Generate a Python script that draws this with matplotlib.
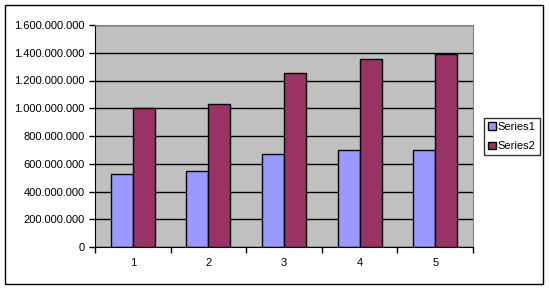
import matplotlib.pyplot as plt
import matplotlib.patches as mpatches
from matplotlib.ticker import FuncFormatter, FixedLocator
import numpy as np

plt.rcParams['font.family'] = ['Liberation Sans', 'DejaVu Sans']

categories = ['1', '2', '3', '4', '5']
series1 = [526e6, 550e6, 670e6, 697e6, 697e6]
series2 = [1000e6, 1030e6, 1255e6, 1353e6, 1391e6]

fig = plt.figure(figsize=(5.49, 2.89), dpi=100)
# outer border
fig.patches.append(mpatches.Rectangle((5 / 549, 5 / 289), 538 / 549, 279 / 289,
                                      transform=fig.transFigure, fill=False,
                                      edgecolor='black', linewidth=1))

ax = fig.add_axes([95 / 549, 1 - 247 / 289, 378 / 549, 222 / 289])
ax.set_facecolor('#C0C0C0')

x = np.arange(len(categories))
w = 0.29
ax.set_axisbelow(True)
ax.yaxis.grid(True, color='black', linewidth=1)
ax.bar(x - w / 2, series1, w, color='#9999FF', edgecolor='black', linewidth=1, label='Series1')
ax.bar(x + w / 2, series2, w, color='#993366', edgecolor='black', linewidth=1, label='Series2')

ax.set_xlim(-0.5, len(categories) - 0.5)
ax.set_ylim(0, 1.6e9)
ax.set_yticks(np.arange(0, 1.6e9 + 1, 2e8))
ax.yaxis.set_major_formatter(FuncFormatter(lambda v, p: f'{int(v):,}'.replace(',', '.')))

ax.set_xticks(x)
ax.set_xticklabels(categories)
ax.xaxis.set_minor_locator(FixedLocator(np.arange(-0.5, len(categories), 1)))
ax.tick_params(axis='x', which='major', length=0, pad=8, labelsize=8)
ax.tick_params(axis='x', which='minor', length=4, width=1, direction='out')
ax.tick_params(axis='y', length=4, width=1, direction='out', labelsize=8)

for s in ['top', 'right']:
    ax.spines[s].set_color('#808080')
for s in ['left', 'bottom']:
    ax.spines[s].set_color('black')

leg = fig.legend(loc='upper left', bbox_to_anchor=(484 / 549, 1 - 118 / 289),
                 fontsize=8, frameon=True, fancybox=False, edgecolor='black',
                 handlelength=0.7, handleheight=0.7, handletextpad=0.2,
                 borderpad=0.35, labelspacing=0.85, borderaxespad=0)
leg.get_frame().set_linewidth(1)

fig.savefig('out.png', dpi=100)
